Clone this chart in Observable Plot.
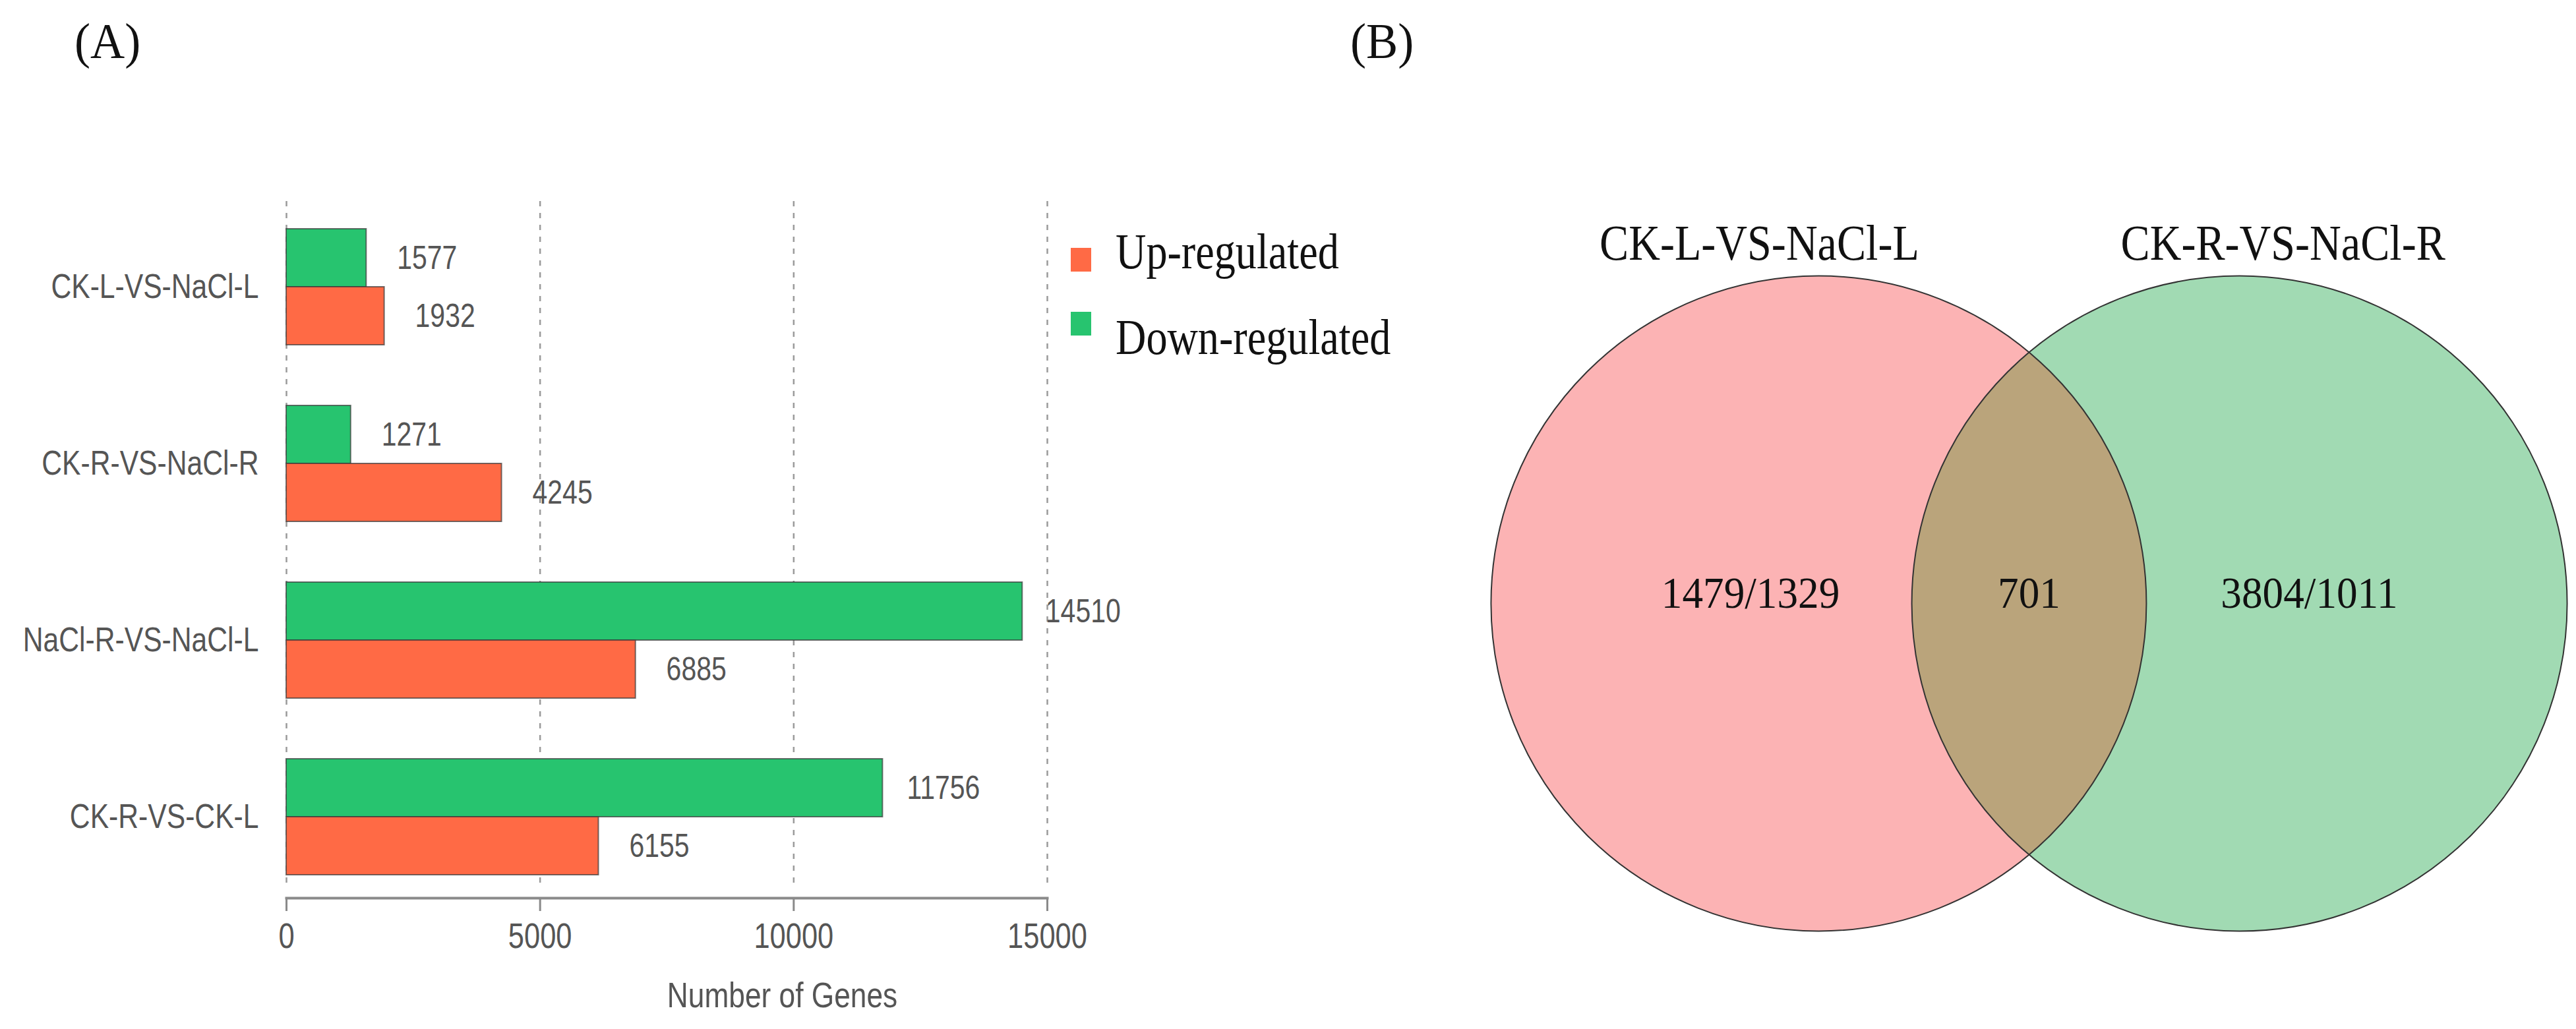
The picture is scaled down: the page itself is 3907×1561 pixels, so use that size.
<!DOCTYPE html>
<html>
<head>
<meta charset="utf-8">
<script src="https://cdn.jsdelivr.net/npm/d3@7"></script>
<script src="https://cdn.jsdelivr.net/npm/@observablehq/plot@0.6"></script>
<style>
  body { margin: 0; background: #fff; }
  #wrap { position: relative; width: 3907px; height: 1561px; overflow: hidden; background: #fff; }
  .abs { position: absolute; }
  .serif { font-family: "Liberation Serif", "Times New Roman", serif; line-height: 1; white-space: nowrap; transform-origin: 0 0; color: #111; }
  .sw { position: absolute; width: 31px; height: 36px; }
</style>
</head>
<body>
<div id="wrap">
  <div id="panelA" class="abs" style="left:0;top:0"></div>
  <div id="panelB" class="abs" style="left:2150px;top:0"></div>
  <div class="abs serif" style="left:113px;top:24px;font-size:76px;transform:scaleX(0.95)">(A)</div>
  <div class="abs serif" style="left:2048px;top:24px;font-size:76px;transform:scaleX(0.95)">(B)</div>
  <div id="legend"></div>
</div>
<script>
// ---------- data ----------
const categories = ["CK-L-VS-NaCl-L", "CK-R-VS-NaCl-R", "NaCl-R-VS-NaCl-L", "CK-R-VS-CK-L"];
const upValues = [1932, 4245, 6885, 6155];
const downValues = [1577, 1271, 14510, 11756];
const xTicks = [0, 5000, 10000, 15000];
const seriesNames = ["Up-regulated", "Down-regulated"];
const seriesColors = ["#FF6A45", "#27C46F"];
const xLabel = "Number of Genes";

const vennSetNames = ["CK-L-VS-NaCl-L", "CK-R-VS-NaCl-R"];
const vennCounts = ["1479/1329", "701", "3804/1011"]; // left only, both, right only
const vennFills = ["#FCB3B4", "#A1DAB3"];
const vennOverlapFill = "#BAA47B";

// helper: narrow the glyphs of every text of a group (the source image is horizontally condensed)
function narrowTexts(selection, sx) {
  selection.attr("transform", function () {
    return (this.getAttribute("transform") || "") + ` scale(${sx},1)`;
  });
}

// ---------- panel A : grouped horizontal bars ----------
const downData = categories.map((c, i) => ({category: c, value: downValues[i]}));
const upData = categories.map((c, i) => ({category: c, value: upValues[i]}));
const halfBand = 88;
const sansFont = '"Liberation Sans", Arial, sans-serif';
const textGray = "#555";

const chartA = Plot.plot({
  width: 2150,
  height: 1561,
  marginLeft: 434,
  marginRight: 562,
  marginTop: 305,
  marginBottom: 199,
  style: {background: "transparent", overflow: "visible", maxWidth: "none", fontFamily: sansFont},
  x: {domain: [0, 15000]},
  y: {domain: categories, range: [255, 1419], paddingInner: 0.343, paddingOuter: 0.343},
  marks: [
    Plot.gridX(xTicks, {stroke: "#9a9a9a", strokeOpacity: 1, strokeWidth: 2.5, strokeDasharray: "8,10", insetBottom: 15}),
    Plot.barX(downData, {x: "value", y: "category", fill: seriesColors[1], insetBottom: halfBand, stroke: "#3a3a3a", strokeWidth: 2, strokeOpacity: 0.7}),
    Plot.barX(upData, {x: "value", y: "category", fill: seriesColors[0], insetTop: halfBand, stroke: "#3a3a3a", strokeWidth: 2, strokeOpacity: 0.7}),
    Plot.text(downData, {x: "value", y: "category", text: d => String(d.value), dx: 92, dy: -halfBand / 2, fontSize: 50, fill: textGray}),
    Plot.text(upData, {x: "value", y: "category", text: d => String(d.value), dx: 92, dy: halfBand / 2, fontSize: 50, fill: textGray}),
    Plot.frame({anchor: "bottom", stroke: "#8a8a8a", strokeWidth: 4}),
    Plot.axisX(xTicks, {tickFormat: d => String(d), tickSize: 20, tickPadding: 18, fontSize: 53, stroke: "#8a8a8a", strokeWidth: 3, fill: textGray, label: null}),
    Plot.axisY({tickSize: 0, tickPadding: 42, fontSize: 52, fill: textGray, label: null}),
    Plot.text([xLabel], {text: d => d, frameAnchor: "bottom", dx: 175, dy: 165, lineAnchor: "bottom", fontSize: 54, fill: textGray})
  ]
});
document.getElementById("panelA").appendChild(chartA);
narrowTexts(d3.select(chartA).selectAll("text"), 0.82);

// legend
const legend = document.getElementById("legend");
[0, 1].forEach((k, j) => {
  const sw = document.createElement("div");
  sw.className = "sw";
  sw.style.left = "1624px";
  sw.style.top = (376 + j * 97) + "px";
  sw.style.background = seriesColors[k];
  legend.appendChild(sw);
  const t = document.createElement("div");
  t.className = "abs serif";
  t.style.left = "1692px";
  t.style.top = (343 + j * 130) + "px";
  t.style.fontSize = "76px";
  t.style.transform = "scaleX(0.845)";
  t.textContent = seriesNames[k];
  legend.appendChild(t);
});

// ---------- panel B : two-set Venn diagram ----------
const vennPx = 497;              // pixels per unit radius
const vennCx = [-0.642, 0.642];  // circle centres (unit radius)
const vennSets = vennSetNames.map((name, i) => ({name, cx: vennCx[i], cy: 0, r: 1}));
const setLabelRows = vennSetNames.map((name, i) => ({text: name, x: [-0.823, 0.775][i], y: 1.099}));
const countRows = vennCounts.map((c, i) => ({text: c, x: [-0.85, 0, 0.855][i], y: 0.03}));
const serifFont = '"Liberation Serif", "Times New Roman", serif';

const chartB = Plot.plot({
  width: 1757,
  height: 1561,
  margin: 0,
  style: {background: "transparent", overflow: "visible", maxWidth: "none"},
  x: {domain: [-1, 1], range: [927 - vennPx, 927 + vennPx], axis: null},
  y: {domain: [-1, 1], range: [915 + vennPx, 915 - vennPx], axis: null},
  r: {type: "identity"},
  marks: [
    Plot.dot([vennSets[0]], {x: "cx", y: "cy", r: d => d.r * vennPx, fill: vennFills[0], stroke: "none"}),
    Plot.dot([vennSets[1]], {x: "cx", y: "cy", r: d => d.r * vennPx, fill: vennFills[1], stroke: "none"}),
    Plot.dot([vennSets[1]], {x: "cx", y: "cy", r: d => d.r * vennPx, fill: vennOverlapFill, stroke: "none"}),
    Plot.dot(vennSets, {x: "cx", y: "cy", r: d => d.r * vennPx, fill: "none", stroke: "#333", strokeWidth: 2}),
    Plot.text(setLabelRows, {x: "x", y: "y", text: "text", fontSize: 76, fontFamily: serifFont, fill: "#111", lineAnchor: "middle"}),
    Plot.text(countRows, {x: "x", y: "y", text: "text", fontSize: 68, fontFamily: serifFont, fill: "#111", lineAnchor: "middle"})
  ]
});
document.getElementById("panelB").appendChild(chartB);

// clip the overlap layer to the left circle; narrow the serif glyphs like the source
(function () {
  const sel = d3.select(chartB);
  const groups = Array.from(chartB.children).filter(n => n.tagName.toLowerCase() === "g");
  const [gLeft, gRight, gOverlap, gOutline, gSetText, gCountText] = groups;
  const leftCircle = gLeft && gLeft.querySelector("circle");
  if (leftCircle && gOverlap) {
    const defs = sel.insert("defs", ":first-child");
    const clip = defs.append("clipPath").attr("id", "vennClipLeft");
    const c = leftCircle.cloneNode(true);
    // include the group's own transform (if any) so the clip sits in the same space
    const gt = gLeft.getAttribute("transform");
    if (gt) c.setAttribute("transform", gt + " " + (c.getAttribute("transform") || ""));
    clip.node().appendChild(c);
    const ot = gOverlap.getAttribute("transform");
    if (ot) { // move the clip to the circle elements so both share the same user space
      d3.select(gOverlap).selectAll("circle").attr("clip-path", "url(#vennClipLeft)");
    } else {
      gOverlap.setAttribute("clip-path", "url(#vennClipLeft)");
    }
  }
  if (gSetText) narrowTexts(d3.select(gSetText).selectAll("text"), 0.87);
  if (gCountText) narrowTexts(d3.select(gCountText).selectAll("text"), 0.93);
})();
</script>
</body>
</html>
